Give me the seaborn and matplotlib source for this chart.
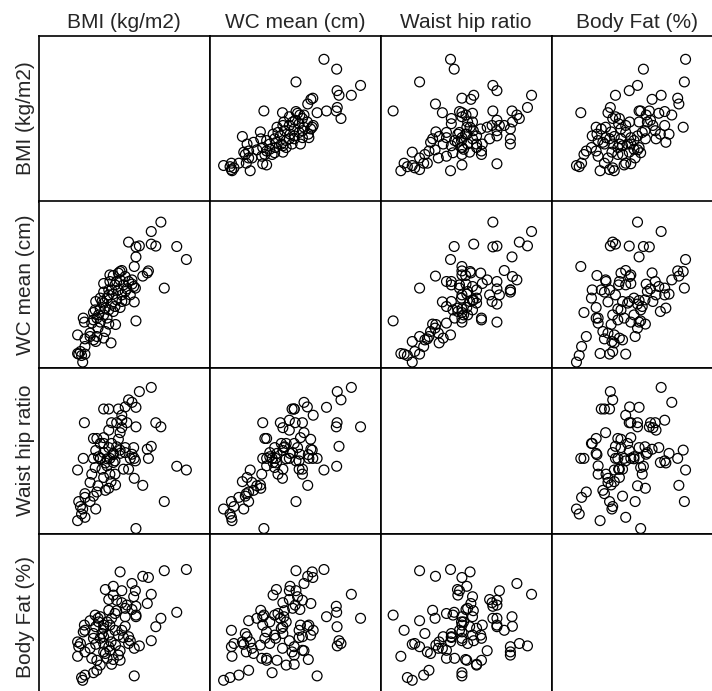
import pandas as pd
import matplotlib
matplotlib.use('Agg')
import matplotlib.pyplot as plt
import seaborn as sns

# values, one entry per subject
bmi = [36.6, 34.9, 39.4, 41.1, 34.9, 35.7, 30.9, 32.2, 32.8, 32.2,
       31.9, 34.4, 34.2, 33.4, 37.2, 31.9, 32.2, 29.7, 29.1, 28.2,
       30.3, 29.4, 30.9, 26.5, 27.6, 28.5, 30.0, 31.5, 32.1, 30.6,
       29.1, 27.4, 26.5, 28.2, 29.7, 31.2, 25.9, 27.1, 28.8, 30.3,
       25.1, 26.5, 27.9, 29.4, 27.4, 25.9, 24.7, 28.2, 26.5, 25.3,
       22.9, 23.1, 24.4, 25.9, 27.4, 28.6, 25.5, 26.8, 21.9, 24.1,
       24.7, 25.3, 26.5, 23.2, 27.8, 25.1, 23.2, 22.4, 21.9, 22.6,
       23.2, 22.8, 27.6, 31.8, 29.7, 26.8, 25.6, 24.7, 24.1, 22.1,
       28.8, 27.9, 30.3, 26.2, 28.5, 25.0, 27.1, 29.4, 31.5, 27.4]

wc = [132.7, 128.0, 120.5, 114.0, 121.7, 120.7, 122.7, 120.3, 120.8, 115.3,
      110.5, 108.3, 107.3, 105.7, 99.7, 92.8, 83.3, 108.5, 107.2, 106.0,
      105.5, 103.8, 103.0, 102.0, 103.0, 101.3, 101.3, 101.7, 99.7, 99.3,
      98.8, 98.8, 97.7, 96.7, 96.3, 96.3, 94.7, 94.7, 93.8, 93.5,
      93.0, 92.2, 91.7, 90.0, 88.8, 89.3, 87.5, 88.0, 86.3, 84.7,
      84.7, 82.7, 82.2, 82.7, 81.7, 81.5, 79.7, 78.0, 76.3, 75.5,
      73.8, 75.5, 74.7, 74.3, 72.3, 73.0, 70.5, 68.0, 67.0, 66.0,
      66.7, 62.7, 106.3, 100.5, 93.0, 89.7, 86.3, 83.8, 77.2, 66.7,
      103.0, 98.8, 98.0, 93.0, 90.5, 88.8, 84.7, 108.0, 103.8, 96.3]

whr = [0.957, 1.052, 0.862, 0.853, 0.910, 0.967, 1.022, 0.957, 1.042, 1.004,
       0.881, 0.881, 0.903, 0.816, 0.777, 0.833, 0.712, 0.985, 0.927, 0.890,
       1.005, 0.943, 0.855, 0.931, 0.843, 0.875, 0.855, 0.891, 0.875, 0.967,
       1.000, 1.000, 1.000, 0.893, 0.973, 0.881, 0.917, 0.880, 0.909, 0.907,
       0.900, 0.917, 0.967, 0.893, 0.907, 0.881, 0.881, 0.871, 0.895, 0.929,
       0.881, 0.967, 0.843, 0.881, 0.809, 0.817, 0.815, 0.804, 0.853, 0.777,
       0.790, 0.800, 0.835, 0.796, 0.825, 0.759, 0.787, 0.765, 0.731, 0.747,
       0.739, 0.759, 0.881, 0.907, 0.955, 0.870, 0.885, 0.929, 0.823, 0.777,
       0.967, 0.917, 0.895, 0.855, 0.843, 0.859, 0.863, 0.901, 1.016, 0.949]

body_fat = [30.3, 36.3, 31.8, 42.5, 24.7, 28.2, 24.0, 33.3, 23.4, 30.7,
            15.9, 40.5, 34.0, 40.8, 42.2, 22.8, 31.1, 27.3, 26.1, 20.0,
            28.3, 22.2, 25.7, 28.6, 22.3, 27.3, 25.5, 32.5, 37.2, 33.6,
            21.1, 23.2, 21.9, 38.3, 37.2, 24.7, 18.6, 29.4, 32.2, 30.7,
            28.2, 27.8, 30.3, 19.8, 26.1, 25.3, 16.7, 36.1, 24.0, 19.8,
            26.9, 28.6, 20.3, 30.7, 32.3, 23.6, 30.3, 21.5, 24.4, 29.7,
            26.5, 17.3, 25.7, 21.9, 24.4, 23.8, 16.1, 24.0, 20.8, 15.5,
            27.3, 14.8, 28.6, 35.7, 34.2, 37.5, 29.4, 25.3, 22.8, 23.2,
            34.8, 18.8, 32.8, 26.5, 31.5, 31.1, 20.3, 41.9, 39.0, 35.0]

labels = ['BMI (kg/m2)', 'WC mean (cm)', 'Waist hip ratio', 'Body Fat (%)']

df = pd.DataFrame({labels[0]: bmi, labels[1]: wc,
                   labels[2]: whr, labels[3]: body_fat})

# axis ranges differ depending on whether the variable sits on x or on y
x_lims = [(15, 45.18), (55.5, 142.9), (0.681, 1.101), (8.46, 51.88)]
y_lims = [(16.6, 45.2), (60, 143), (0.70, 1.10), (10, 51.5)]

sns.set_style('white')
plt.rcParams['font.family'] = ['Liberation Sans', 'DejaVu Sans']

W, H = 712, 691
fig = plt.figure(figsize=(W / 100, H / 100), dpi=100)

# grid geometry in pixels (last row / column run past the image edge)
x0, y0, pw, ph = 38.5, 35.5, 171, 166

for i, row_var in enumerate(labels):
    for j, col_var in enumerate(labels):
        left = x0 + j * pw
        top = y0 + i * ph
        ax = fig.add_axes([left / W, 1 - (top + ph) / H, pw / W, ph / H])
        if i != j:
            sns.scatterplot(data=df, x=col_var, y=row_var, ax=ax, marker='o',
                            s=50, facecolor='none', edgecolor='black',
                            linewidth=0.9)
        ax.set_xlim(x_lims[j])
        ax.set_ylim(y_lims[i])
        ax.set_xticks([])
        ax.set_yticks([])
        ax.set_xlabel('')
        ax.set_ylabel('')
        for sp in ax.spines.values():
            sp.set_visible(True)
            sp.set_color('black')
            sp.set_linewidth(1.2)

# variable names above the columns and left of the rows
for k, name in enumerate(labels):
    cx = x0 + k * pw + pw / 2
    fig.text(cx / W, 1 - (y0 - 3) / H, name, ha='center', va='bottom',
             fontsize=15)
    cy = y0 + k * ph + ph / 2
    fig.text((x0 - 3) / W, 1 - cy / H, name, ha='right', va='center',
             rotation=90, fontsize=15)

fig.savefig('out.png', dpi=100)
